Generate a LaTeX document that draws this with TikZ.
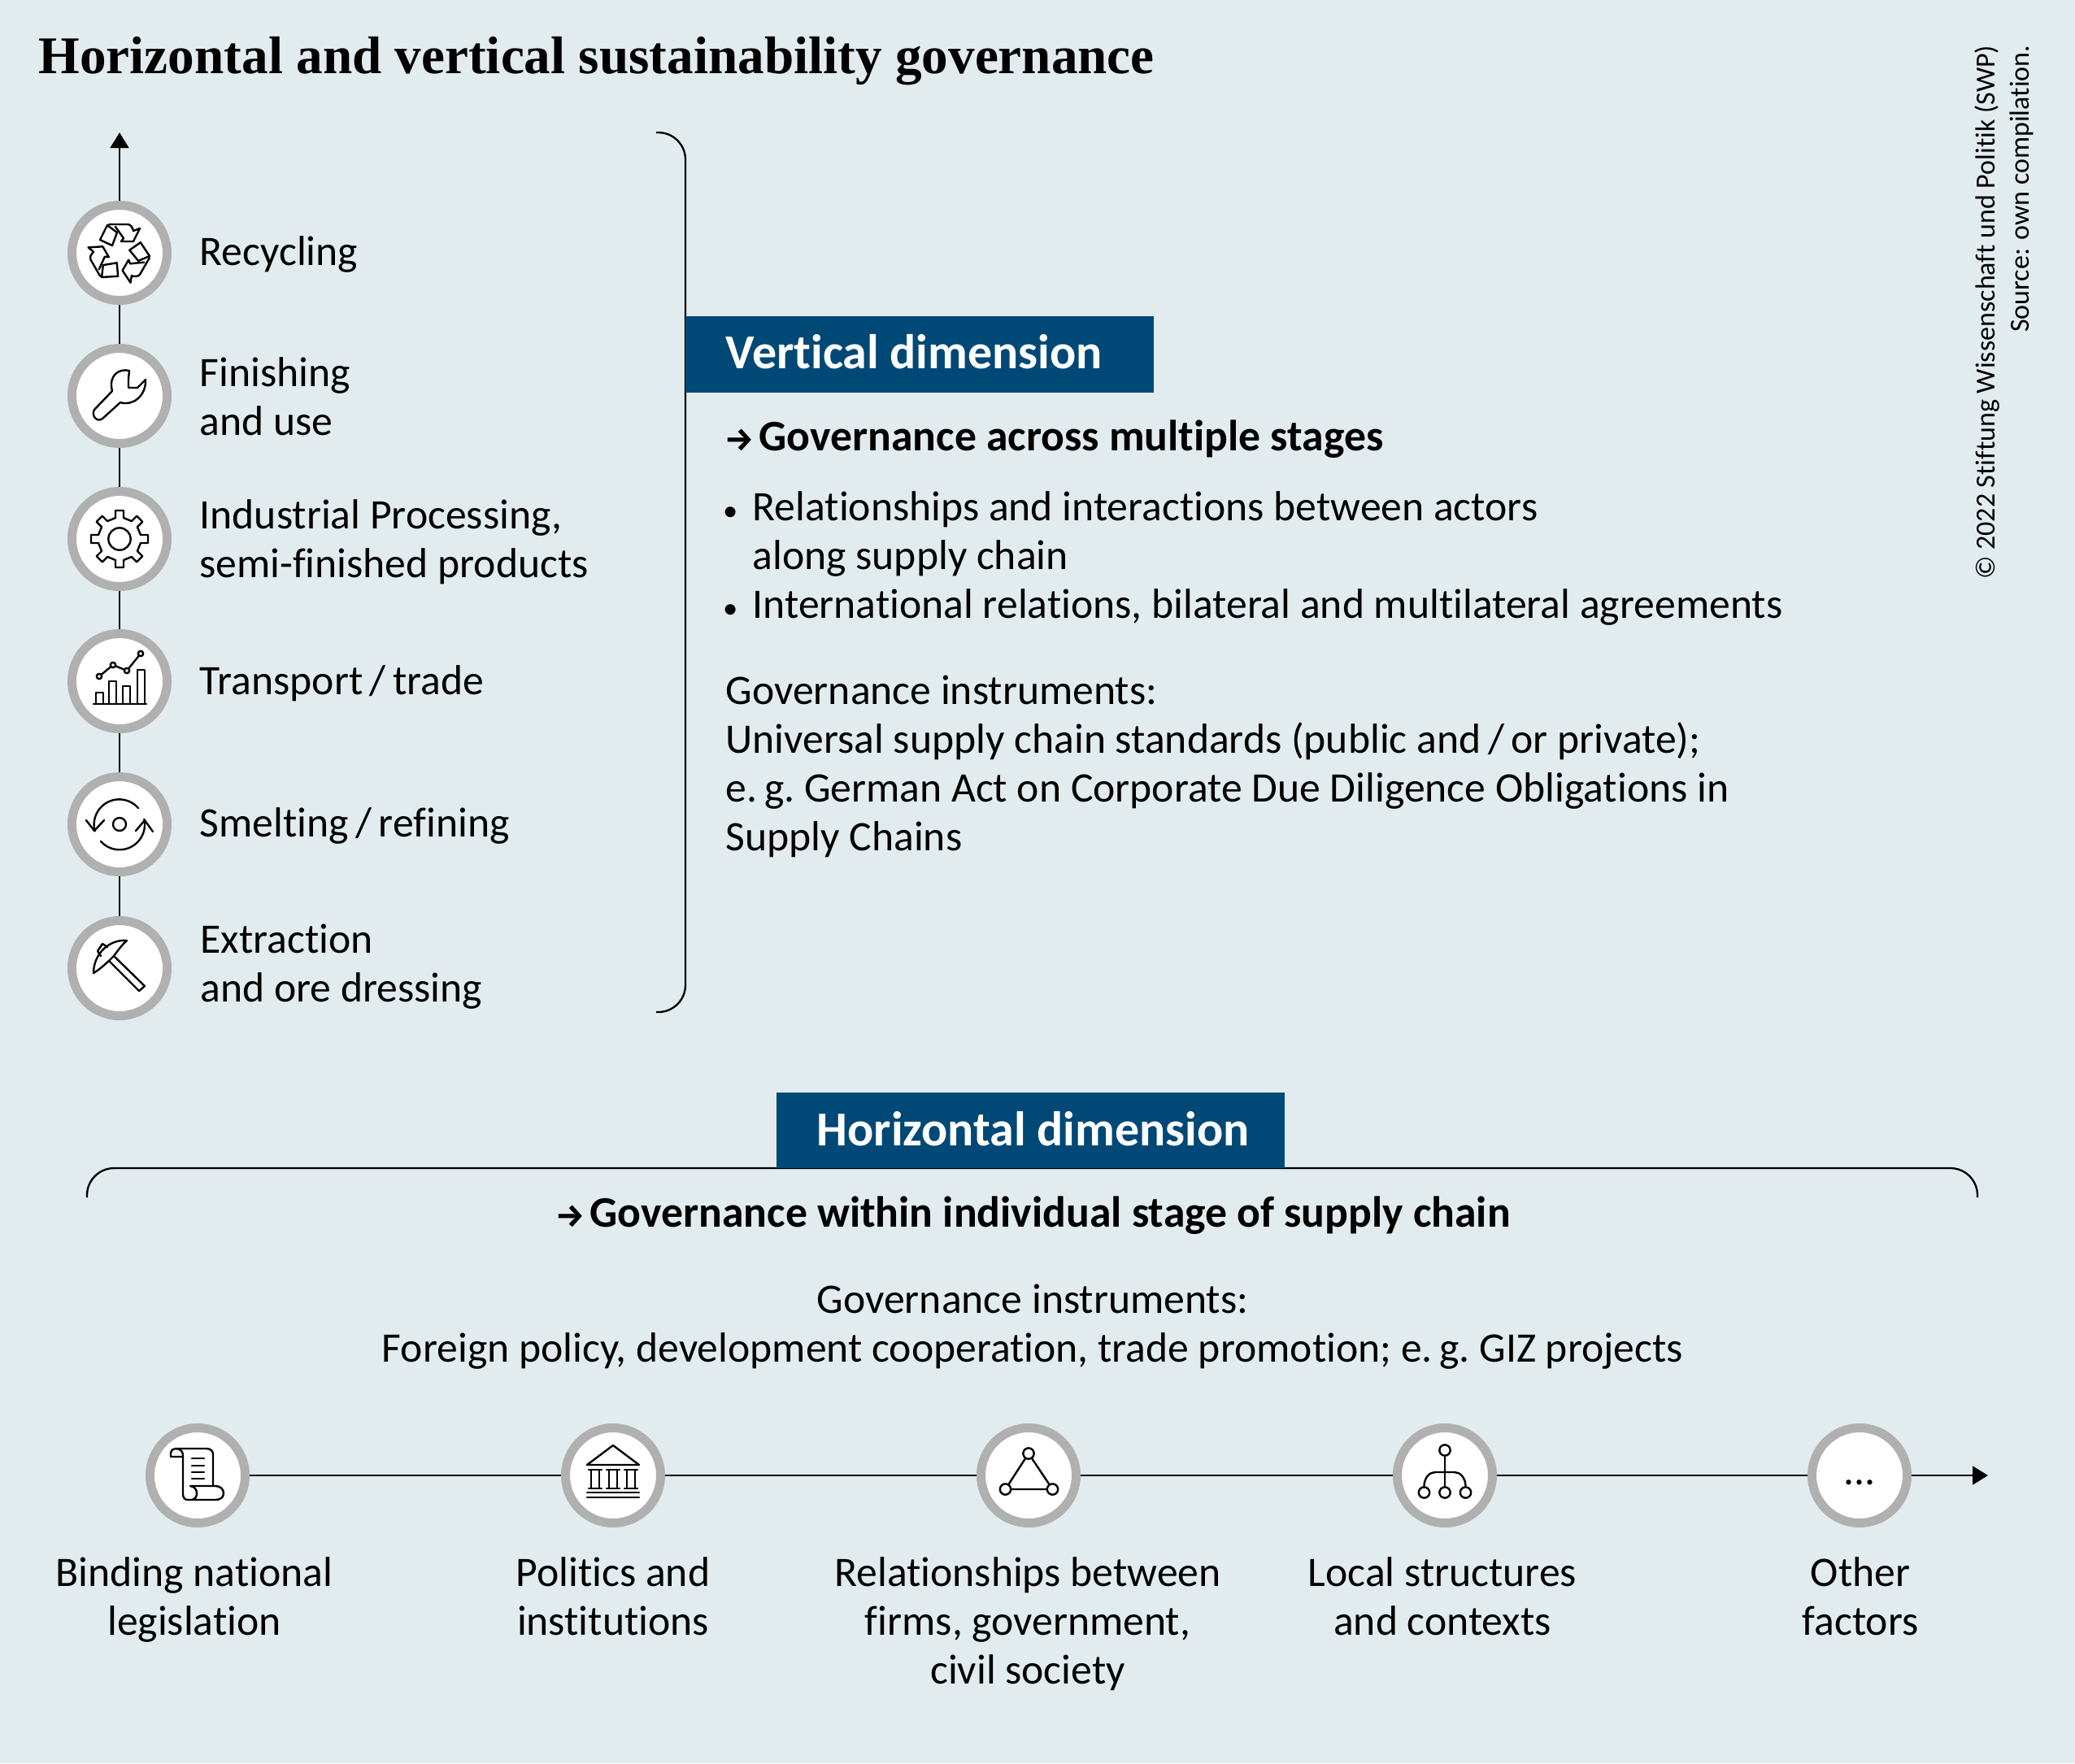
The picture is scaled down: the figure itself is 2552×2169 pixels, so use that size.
\documentclass[tikz,border=0pt]{standalone}
\usepackage{fontspec}
\setmainfont[RawFeature={-liga}]{Carlito}
\newfontfamily\titlefont{Liberation Serif}
\newfontfamily\arrowfont{Fira Sans}
\usetikzlibrary{arrows.meta}
\definecolor{bgcol}{RGB}{226,236,239}
\definecolor{boxcol}{RGB}{0,72,118}
\definecolor{ringcol}{RGB}{176,176,176}
\newcommand{\arrowmark}{\makebox[12.3pt][l]{\hspace{-0.4pt}\arrowfont\fontsize{12pt}{12pt}\selectfont\bfseries →}}
\newcommand{\listdot}{\llap{\fontsize{11pt}{11pt}\selectfont\textbullet\hspace{5.5pt}}}
\tikzset{
    ring/.style={circle, draw=ringcol, fill=white, line width=3.3pt, minimum size=35.1pt, inner sep=0pt},
    link/.style={line width=0.85pt},
    iconline/.style={line width=0.72pt, line join=round, line cap=round},
    bodytext/.style={inner sep=0pt, align=left, font=\fontsize{15.5pt}{18pt}\selectfont},
    bodymid/.style={inner sep=0pt, align=center, font=\fontsize{15.5pt}{18pt}\selectfont},
    headtext/.style={inner sep=0pt, anchor=base west, font=\fontsize{16.1pt}{18pt}\selectfont\bfseries},
    dimtext/.style={inner sep=0pt, anchor=base west, text=white, font=\fontsize{18pt}{20pt}\selectfont\bfseries},
    curlyline/.style={line width=0.7pt, rounded corners=10pt}
}
\begin{document}
\begin{tikzpicture}[x=0.3pt, y=-0.3pt]
    \fill[bgcol] (0,0) rectangle (2552,2169);
    \useasboundingbox (0,0) rectangle (2552,2169);

    \node[inner sep=0pt, anchor=base west, font=\titlefont\fontsize{19.55pt}{20pt}\selectfont\bfseries] (title) at (47,90) {Horizontal and vertical sustainability governance};
    \node[inner sep=0pt, rotate=90, anchor=east, align=right, font=\fontsize{10.2pt}{12.6pt}\selectfont] (credit) at (2465,55) {© 2022 Stiftung Wissenschaft und Politik (SWP)\\Source: own compilation.};

    % stages
    \coordinate (axistop) at (147,163);
    \node[ring] (recycling) at (147,311) {};
    \node[ring] (finishing) at (147,487) {};
    \node[ring] (processing) at (147,663) {};
    \node[ring] (transport) at (147,838) {};
    \node[ring] (smelting) at (147,1014) {};
    \node[ring] (extraction) at (147,1191) {};
    \draw[link, -{Triangle[length=5.7pt,width=6.8pt]}] (recycling) -- (axistop);
    \draw[link] (recycling) -- (finishing);
    \draw[link] (finishing) -- (processing);
    \draw[link] (processing) -- (transport);
    \draw[link] (transport) -- (smelting);
    \draw[link] (smelting) -- (extraction);

    \node[bodytext, anchor=west] (recyclinglabel) at (245,313) {Recycling};
    \node[bodytext, anchor=west] (finishinglabel) at (245,488) {Finishing\\and use};
    \node[bodytext, anchor=west] (processinglabel) at (245,667) {Industrial Processing,\\semi-finished products};
    \node[bodytext, anchor=west] (transportlabel) at (245,841) {Transport\,/\,trade};
    \node[bodytext, anchor=west] (smeltinglabel) at (245,1016) {Smelting\,/\,refining};
    \node[bodytext, anchor=west] (extractionlabel) at (246,1189) {Extraction\\and ore dressing};

    % icons of the stages
    \foreach \turn in {0,-120,-240} {
        \begin{scope}[shift={(recycling.center)}, rotate=\turn, iconline]
            \draw (-24,-16) -- (-15,-34) -- (-3,-25) -- (-9,-9) -- cycle;
            \draw (-13,-35) -- (10,-35) .. controls (14,-35) and (16,-31) .. (17,-27) -- (25,-30) -- (17,-14) -- (2,-14) -- (5,-18) -- (-5,-32);
        \end{scope}
    }
    \begin{scope}[shift={(finishing.center)}, iconline]
        \draw (12,-31) .. controls (0,-34) and (-14,-26) .. (-9,-6) -- (-31,17) .. controls (-35,24) and (-28,33) .. (-21,28) -- (1,8) .. controls (16,13) and (33,0) .. (32,-20) -- (22,-10) -- (11,-10) -- (11,-21) -- cycle;
    \end{scope}
    \begin{scope}[shift={(processing.center)}, iconline]
        \draw (0,0) circle[radius=4.1pt];
        \foreach \turn in {0,-45,...,-315} {
            \draw[rotate=\turn] (-5,-26) -- (-5,-35) -- (5,-35) -- (5,-26) -- (14.8,-21.9);
        }
    \end{scope}
    \begin{scope}[shift={(transport.center)}, iconline]
        \draw (-32,28) -- (33,28);
        \draw (-29,28) -- (-29,14) -- (-20,14) -- (-20,28);
        \draw (-13,28) -- (-13,0) -- (-4,0) -- (-4,28);
        \draw (4,28) -- (4,6) -- (13,6) -- (13,28);
        \draw (22,28) -- (22,-14) -- (31,-14) -- (31,28);
        \draw (-25,-6) -- (-8,-20) -- (9,-13) -- (26,-34);
        \filldraw[fill=white] (-25,-6) circle[radius=0.95pt] (-8,-20) circle[radius=0.95pt] (9,-13) circle[radius=0.95pt] (26,-34) circle[radius=0.95pt];
    \end{scope}
    \begin{scope}[shift={(smelting.center)}, iconline]
        \draw (0,0) circle[radius=2.4pt];
        \draw (23,-20) arc[start angle=41, end angle=195, radius=9.3pt];
        \draw (-41,-5) -- (-31,8) -- (-19,-5);
        \draw (-23,21) arc[start angle=222, end angle=372, radius=9.3pt];
        \draw (20,8) -- (31,-5) -- (41,9);
    \end{scope}
    \begin{scope}[shift={(extraction.center)}, iconline]
        \draw (-13,-9) -- (24,28) -- (31,22) -- (-7,-15);
        \draw (9,-34) .. controls (-12,-36) and (-32,-18) .. (-32,6) .. controls (-22,0) and (-17,-6) .. (-13,-9) -- (-7,-15) .. controls (-3,-20) and (2,-28) .. (9,-34);
        \draw (-23,-15) -- (-27,-21) -- (-21,-30) -- (-15,-26);
    \end{scope}

    % vertical dimension
    \draw[curlyline] (807,163) -- (843,163) -- (843,1245) -- (807,1245);
    \fill[boxcol] (843,389) rectangle (1419,483);
    \node[dimtext] (vertical) at (892,453) {Vertical dimension};
    \node[headtext] (verticalhead) at (892,554) {\arrowmark Governance across multiple stages};
    \node[bodytext, anchor=north west] (verticalpoints) at (925,604) {\listdot Relationships and interactions between actors\\along supply chain\\\listdot International relations, bilateral and multilateral agreements};
    \node[bodytext, anchor=north west] (verticaltools) at (892,830) {Governance instruments:\\Universal supply chain standards (public and\,/\,or private);\\e.\,g.\ German Act on Corporate Due Diligence Obligations in\\Supply Chains};

    % horizontal dimension
    \draw[curlyline] (107,1473) -- (107,1437) -- (2432,1437) -- (2432,1473);
    \fill[boxcol] (955,1344) rectangle (1580,1437);
    \node[dimtext] (horizontal) at (1004,1409) {Horizontal dimension};
    \node[headtext] (horizontalhead) at (684,1509) {\arrowmark Governance within individual stage of supply chain};
    \node[bodymid, anchor=north] (horizontaltools) at (1270,1579) {Governance instruments:\\Foreign policy, development cooperation, trade promotion; e.\,g.\ GIZ projects};

    % factors
    \coordinate (axisend) at (2445,1815);
    \node[ring] (legislation) at (243,1815) {};
    \node[ring] (politics) at (754,1815) {};
    \node[ring] (relations) at (1265,1815) {};
    \node[ring] (local) at (1777,1815) {};
    \node[ring] (other) at (2287,1815) {};
    \draw[link] (legislation) -- (politics);
    \draw[link] (politics) -- (relations);
    \draw[link] (relations) -- (local);
    \draw[link] (local) -- (other);
    \draw[link, -{Triangle[length=5.7pt,width=6.8pt]}] (other) -- (axisend);

    \node[bodymid, anchor=north] (legislationlabel) at (239,1915) {Binding national\\legislation};
    \node[bodymid, anchor=north] (politicslabel) at (754,1915) {Politics and\\institutions};
    \node[bodymid, anchor=north] (relationslabel) at (1264,1915) {Relationships between\\firms, government,\\civil society};
    \node[bodymid, anchor=north] (locallabel) at (1774,1915) {Local structures\\and contexts};
    \node[bodymid, anchor=north] (otherlabel) at (2288,1915) {Other\\factors};

    % icons of the factors
    \begin{scope}[shift={(legislation.center)}, iconline]
        \draw (-18,-23) -- (-33,-23) -- (-33,-28) .. controls (-33,-31) and (-30,-33) .. (-27,-33) -- (11,-33) .. controls (16,-33) and (19,-30) .. (19,-26) -- (19,13);
        \draw (-27,-33) .. controls (-22,-33) and (-18,-30) .. (-18,-25) -- (-18,23) .. controls (-18,27) and (-16,30) .. (-12,30) -- (22,30) .. controls (28,30) and (32,27) .. (32,22) .. controls (32,17) and (28,13) .. (22,13) -- (-9,13) .. controls (-3,14) and (-1,18) .. (-1,22) .. controls (-1,26) and (-3,29) .. (-7,30);
        \foreach \row in {-21,-12,-4,4} {
            \draw (-7,\row) -- (8,\row);
        }
    \end{scope}
    \begin{scope}[shift={(politics.center)}, iconline]
        \draw (0,-37) -- (32,-13) -- (-32,-13) -- cycle;
        \foreach \col in {-22,0,22} {
            \draw[xshift=\col*0.3pt] (-8,-7) -- (8,-7) (-5,-7) -- (-5,16) (5,-7) -- (5,16) (-8,16) -- (8,16);
        }
        \draw (-32,21) -- (32,21) (-32,27) -- (32,27);
    \end{scope}
    \begin{scope}[shift={(relations.center)}, iconline]
        \draw (0,-27) -- (-28.5,17) -- (29.5,17) -- cycle;
        \filldraw[fill=white] (0,-27) circle[radius=2pt] (-28.5,17) circle[radius=2pt] (29.5,17) circle[radius=2pt];
    \end{scope}
    \begin{scope}[shift={(local.center)}, iconline]
        \draw (0,-31) -- (0,21);
        \draw (-25.5,21) -- (-25.5,12) .. controls (-25,3) and (-19,-4) .. (-12,-4) -- (12,-4) .. controls (19,-4) and (25,3) .. (25.5,12) -- (25.5,21);
        \filldraw[fill=white] (0,-31) circle[radius=2pt] (-25.5,21) circle[radius=2pt] (0,21) circle[radius=2pt] (25.5,21) circle[radius=2pt];
    \end{scope}
    \node[inner sep=0pt, yshift=-2.5pt, font=\fontsize{15.5pt}{15.5pt}\selectfont] (dots) at (other.center) {...};
\end{tikzpicture}
\end{document}
